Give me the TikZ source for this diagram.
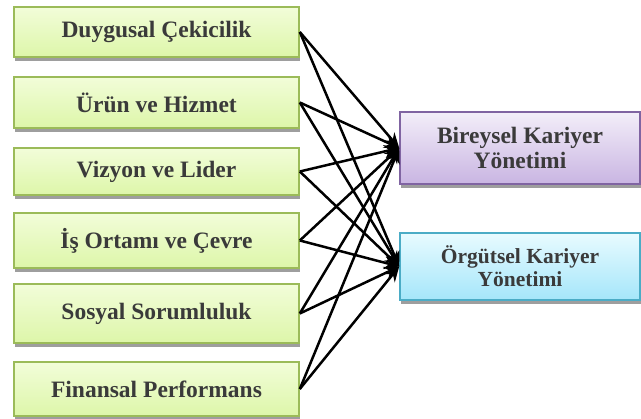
\documentclass[tikz,border=0pt]{standalone}
\usepackage{fontspec}
\setmainfont{Liberation Serif}
\usetikzlibrary{arrows.meta,shadows}
\definecolor{txt}{HTML}{3A3A3A}
\definecolor{gborder}{HTML}{9BBB59}
\definecolor{gtop}{HTML}{F2FDD9}
\definecolor{gbot}{HTML}{DDF6A9}
\definecolor{pborder}{HTML}{8064A2}
\definecolor{ptop}{HTML}{F3EEF9}
\definecolor{pbot}{HTML}{C9B5E2}
\definecolor{bborder}{HTML}{4BACC6}
\definecolor{btop}{HTML}{E8FBFF}
\definecolor{bbot}{HTML}{A5E6FA}
\tikzset{
  base/.style={rectangle, line width=1.6pt, text=txt, align=center,
    font=\fontsize{23.5}{25}\selectfont\bfseries,
    drop shadow={shadow xshift=1pt, shadow yshift=-4.5pt, fill=black!38, opacity=1}},
  leftbox/.style={base, draw=gborder, top color=gtop, bottom color=gbot,
    minimum width=285pt, inner sep=0pt},
  purbox/.style={base, draw=pborder, top color=ptop, bottom color=pbot,
    minimum width=240pt, inner sep=0pt, font=\fontsize{23.5}{25}\selectfont\bfseries},
  blubox/.style={base, draw=bborder, top color=btop, bottom color=bbot,
    minimum width=240pt, inner sep=0pt, font=\fontsize{21.5}{23}\selectfont\bfseries},
  conn/.style={line width=2.5pt, -{Stealth[length=15pt,width=13pt]}}
}
\begin{document}
\begin{tikzpicture}[x=1pt,y=-1pt]
\useasboundingbox (0,0) rectangle (641,419);
\node[leftbox, minimum height=50pt] (a1) at (156.5,32) {Duygusal Çekicilik};
\node[leftbox, minimum height=51pt] (a2) at (156.5,102.5) {Ürün ve Hizmet};
\node[leftbox, minimum height=47pt] (a3) at (156.5,171.5) {Vizyon ve Lider};
\node[leftbox, minimum height=55pt] (a4) at (156.5,240.5) {İş Ortamı ve Çevre};
\node[leftbox, minimum height=59pt] (a5) at (156.5,313.5) {Sosyal Sorumluluk};
\node[leftbox, minimum height=54pt] (a6) at (156.5,389) {Finansal Performans};
\node[purbox, minimum height=72pt] (b1) at (520,148) {Bireysel Kariyer\\Yönetimi};
\node[blubox, minimum height=67pt] (b2) at (520,266.5) {Örgütsel Kariyer\\Yönetimi};
\foreach \i in {1,...,6}{
  \draw[conn] (a\i.east) -- (b1.west);
  \draw[conn] (a\i.east) -- (b2.west);
}
\end{tikzpicture}
\end{document}
